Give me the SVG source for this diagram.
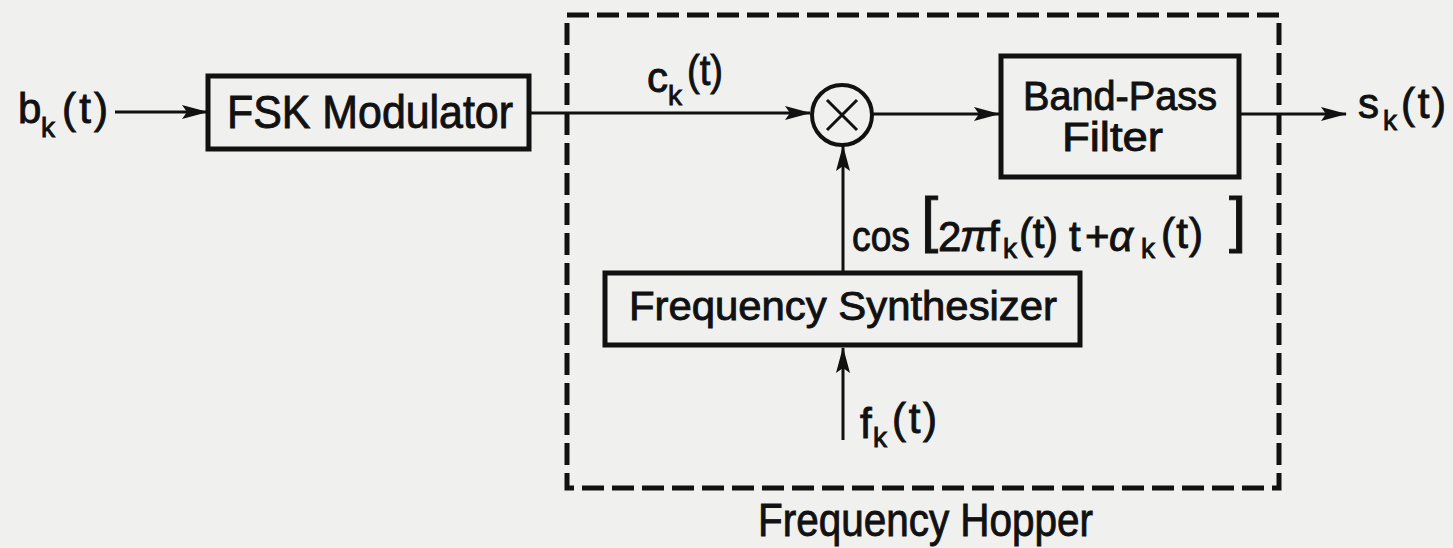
<svg xmlns="http://www.w3.org/2000/svg" width="1453" height="548" viewBox="0 0 1453 548">
  <defs>
    <marker id="arr" markerUnits="userSpaceOnUse" markerWidth="26" markerHeight="14" refX="25" refY="7" orient="auto">
      <path d="M0,0 L26,7 L0,14 L5,7 z" fill="#111"/>
    </marker>
  </defs>
  <style>
    .t { font-family: "Liberation Sans", Arial, sans-serif; fill: #111; stroke: #111; stroke-width: 0.9px; }
    .m { font-size: 42px; }
    .s { font-size: 28px; }
    .box { fill: none; stroke: #111; stroke-width: 5; }
    .wire { fill: none; stroke: #111; stroke-width: 3; }
    .dash { fill: none; stroke: #111; stroke-width: 5; stroke-dasharray: 22 8; }
  </style>
  <rect x="0" y="0" width="1453" height="548" fill="#f0f0ee"/>

  <g id="frequency-hopper">
    <rect class="dash" x="567" y="15" width="712" height="473"/>
    <text class="t" x="758" y="536" font-size="46" textLength="335" lengthAdjust="spacingAndGlyphs">Frequency Hopper</text>
  </g>

  <g id="input-bk">
    <text class="t m" x="18" y="123">b</text>
    <text class="t s" x="41" y="137">k</text>
    <text class="t m" x="62" y="123" textLength="46" lengthAdjust="spacing">(t)</text>
  </g>

  <g id="fsk-modulator">
    <rect class="box" x="208" y="76" width="321" height="73"/>
    <text class="t" x="227" y="128" font-size="46" textLength="286" lengthAdjust="spacingAndGlyphs">FSK Modulator</text>
  </g>

  <g id="label-ck">
    <text class="t m" x="647" y="92">c</text>
    <text class="t s" x="668" y="105">k</text>
    <text class="t m" x="687" y="85" textLength="36" lengthAdjust="spacingAndGlyphs">(t)</text>
  </g>

  <g id="multiplier">
    <circle cx="842" cy="115" r="30" fill="none" stroke="#111" stroke-width="4"/>
    <path class="wire" d="M827,100 L857,130 M827,130 L857,100"/>
  </g>

  <g id="band-pass-filter">
    <rect class="box" x="1001" y="56" width="238" height="121"/>
    <text class="t" x="1023" y="110" font-size="40" textLength="194" lengthAdjust="spacingAndGlyphs">Band-Pass</text>
    <text class="t" x="1062" y="151" font-size="40" textLength="101" lengthAdjust="spacingAndGlyphs">Filter</text>
  </g>

  <g id="output-sk">
    <text class="t m" x="1358" y="118">s</text>
    <text class="t s" x="1383" y="130">k</text>
    <text class="t m" x="1401" y="118" textLength="45" lengthAdjust="spacing">(t)</text>
  </g>

  <g id="label-cos">
    <text class="t" x="852" y="251" font-size="42" textLength="58" lengthAdjust="spacingAndGlyphs">cos</text>
    <text class="t" x="921" y="240" font-size="62" stroke-width="1.6">[</text>
    <text class="t m" x="938" y="251">2</text>
    <text class="t" x="960" y="251" font-size="42" font-style="italic">π</text>
    <text class="t m" x="988" y="251">f</text>
    <text class="t s" x="1003" y="258">k</text>
    <text class="t m" x="1019" y="248" textLength="39" lengthAdjust="spacing">(t)</text>
    <text class="t m" x="1069" y="251">t</text>
    <text class="t m" x="1085" y="251">+</text>
    <text class="t" x="1109" y="251" font-size="42" font-style="italic">α</text>
    <text class="t s" x="1141" y="258">k</text>
    <text class="t m" x="1161" y="248" textLength="42" lengthAdjust="spacing">(t)</text>
    <text class="t" x="1229" y="240" font-size="62" stroke-width="1.6">]</text>
  </g>

  <g id="frequency-synthesizer">
    <rect class="box" x="605" y="273" width="475" height="72"/>
    <text class="t" x="629" y="320" font-size="40" textLength="428" lengthAdjust="spacingAndGlyphs">Frequency Synthesizer</text>
  </g>

  <g id="input-fk">
    <text class="t m" x="860" y="438">f</text>
    <text class="t s" x="873" y="447">k</text>
    <text class="t m" x="892" y="433" textLength="45" lengthAdjust="spacing">(t)</text>
  </g>

  <g id="connectors">
    <line class="wire" x1="115" y1="112" x2="207" y2="112" marker-end="url(#arr)"/>
    <line class="wire" x1="531" y1="113" x2="810" y2="113" marker-end="url(#arr)"/>
    <line class="wire" x1="873" y1="114" x2="999" y2="114" marker-end="url(#arr)"/>
    <line class="wire" x1="1241" y1="114" x2="1346" y2="114" marker-end="url(#arr)"/>
    <line class="wire" x1="843" y1="272" x2="843" y2="146" marker-end="url(#arr)"/>
    <line class="wire" x1="843" y1="440" x2="843" y2="348" marker-end="url(#arr)"/>
  </g>
</svg>
